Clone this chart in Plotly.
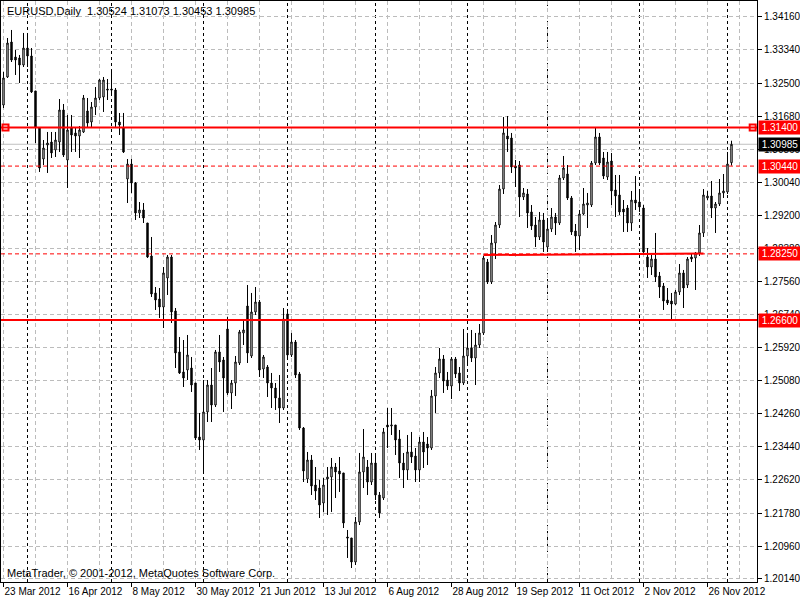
import plotly.graph_objects as go

# ---------------- data ----------------
bar_index = list(range(183))

opens = [1.31964,1.32663,1.33536,1.33162,1.33137,1.32962,1.33386,1.33187,1.32314,1.31390,
1.30617,1.30966,1.31041,1.30842,1.31041,1.31840,1.30592,1.31390,1.31266,1.31191,
1.31291,1.31815,1.31540,1.31914,1.32139,1.32164,1.32363,1.32363,1.32339,1.31540,
1.31390,1.30118,1.30492,1.30018,1.29270,1.29345,1.29020,1.28197,1.27274,1.27124,
1.26924,1.27648,1.28172,1.26825,1.25802,1.25303,1.25353,1.25402,1.25028,1.23681,
1.23606,1.24305,1.24978,1.24479,1.25802,1.25602,1.26375,1.24779,1.25028,1.25527,
1.26276,1.26949,1.25702,1.26800,1.27049,1.25377,1.25427,1.25028,1.24903,1.24654,
1.24404,1.26750,1.25727,1.26051,1.25253,1.23905,1.22633,1.23107,1.22483,1.22408,
1.22034,1.22633,1.22683,1.22932,1.22833,1.22783,1.21186,1.21161,1.20562,1.21560,
1.22808,1.22932,1.22558,1.23032,1.22234,1.22159,1.23980,1.23955,1.23980,1.23631,
1.23032,1.22858,1.23307,1.23207,1.22858,1.23556,1.23506,1.23406,1.24704,1.25278,
1.25627,1.25103,1.24953,1.25627,1.25278,1.25028,1.25702,1.25901,1.25652,1.25976,
1.26276,1.28047,1.27548,1.28521,1.28970,1.29868,1.31191,1.31141,1.30442,1.30467,
1.29669,1.29744,1.29295,1.28970,1.28671,1.29095,1.28421,1.28870,1.29170,1.29020,
1.30143,1.30243,1.29644,1.28821,1.28696,1.29245,1.29469,1.29469,1.30517,1.31166,
1.30642,1.30168,1.30567,1.29844,1.29719,1.29369,1.29394,1.29020,1.29594,1.29544,
1.29394,1.28172,1.27922,1.28122,1.27698,1.27448,1.27099,1.27074,1.26999,1.27299,
1.27773,1.27473,1.28172,1.28147,1.28272,1.28771,1.29644,1.29694,1.29394,1.29494,
1.29769,1.29794,1.30524]

highs = [1.32788,1.33636,1.33836,1.33337,1.33212,1.33761,1.33761,1.33386,1.32314,1.31415,
1.31091,1.31291,1.31291,1.31291,1.32114,1.31989,1.31715,1.31715,1.31415,1.31440,
1.32214,1.32139,1.32039,1.32413,1.32613,1.32663,1.32613,1.32788,1.32388,1.31765,
1.31765,1.30617,1.30617,1.30043,1.29544,1.29519,1.29020,1.28671,1.27423,1.27398,
1.27922,1.28222,1.28222,1.26899,1.26176,1.26101,1.26226,1.25677,1.25028,1.24280,
1.25103,1.25103,1.25402,1.25852,1.26226,1.25677,1.26675,1.25103,1.25702,1.26351,
1.26600,1.27473,1.27274,1.27423,1.27099,1.25727,1.25477,1.25278,1.25028,1.25228,
1.26899,1.26800,1.26276,1.26101,1.25303,1.23930,1.23307,1.23232,1.22932,1.22608,
1.22658,1.22932,1.23157,1.23032,1.23182,1.22783,1.21361,1.21161,1.21685,1.23282,
1.23880,1.23107,1.23282,1.23232,1.22309,1.23905,1.24404,1.24404,1.23980,1.23856,
1.23282,1.23731,1.23806,1.23406,1.23681,1.23806,1.23681,1.24854,1.25427,1.25901,
1.25727,1.25303,1.25677,1.25677,1.25427,1.26375,1.26276,1.26351,1.26276,1.26500,
1.28197,1.28122,1.28721,1.29045,1.29968,1.31665,1.31690,1.31266,1.30592,1.30567,
1.29893,1.29868,1.29469,1.29170,1.29295,1.29270,1.29145,1.29394,1.29270,1.30218,
1.30692,1.30467,1.29694,1.28995,1.29345,1.29893,1.29769,1.30567,1.31390,1.31266,
1.30792,1.30792,1.30767,1.30218,1.30218,1.29594,1.29469,1.29819,1.30193,1.29794,
1.29469,1.28396,1.28222,1.28771,1.27798,1.27523,1.27398,1.27274,1.27349,1.27997,
1.27848,1.28172,1.28247,1.28297,1.28970,1.29868,1.29819,1.30068,1.29544,1.30118,
1.30243,1.30792,1.31073]

lows = [1.31889,1.32638,1.33037,1.32713,1.32513,1.32912,1.32912,1.32264,1.31016,1.30293,
1.30467,1.30268,1.30642,1.30667,1.30792,1.30667,1.29893,1.30792,1.30792,1.30642,
1.31266,1.31415,1.31415,1.31715,1.32089,1.31790,1.32089,1.32214,1.31415,1.31216,
1.30767,1.29519,1.29769,1.29095,1.29145,1.29020,1.28147,1.27174,1.26850,1.26650,
1.26400,1.27224,1.26525,1.25402,1.25253,1.24928,1.25103,1.24804,1.23606,1.23357,
1.22808,1.24055,1.24055,1.24429,1.25303,1.24305,1.24729,1.24379,1.24704,1.25477,
1.25976,1.25527,1.25652,1.26725,1.25178,1.25153,1.24679,1.24404,1.24355,1.24030,
1.24355,1.25677,1.25677,1.25153,1.23856,1.22558,1.22533,1.22234,1.22109,1.21660,
1.21810,1.21735,1.21810,1.22159,1.22309,1.21410,1.20662,1.20412,1.20487,1.21485,
1.22408,1.22234,1.22483,1.22109,1.21660,1.22109,1.23406,1.23731,1.23232,1.22658,
1.22408,1.22608,1.23032,1.22558,1.22558,1.22907,1.22982,1.23357,1.24280,1.25153,
1.24779,1.24854,1.24629,1.25153,1.24829,1.24978,1.25477,1.25552,1.24978,1.25901,
1.26226,1.27498,1.27498,1.28122,1.28895,1.29744,1.30792,1.30268,1.29918,1.29170,
1.29594,1.28895,1.28846,1.28421,1.28596,1.28297,1.28347,1.28796,1.28721,1.28970,
1.30093,1.29594,1.28721,1.28297,1.28347,1.29220,1.28895,1.29419,1.30467,1.30467,
1.30118,1.30093,1.29469,1.29170,1.29220,1.28796,1.28796,1.28821,1.29345,1.29295,
1.28222,1.27648,1.27723,1.27548,1.27149,1.26850,1.26974,1.26600,1.26974,1.27224,
1.26899,1.27398,1.28047,1.27349,1.28197,1.28671,1.29594,1.29145,1.28771,1.29444,
1.29644,1.29744,1.30453]

closes = [1.32638,1.33511,1.33087,1.33087,1.32962,1.33386,1.33187,1.32289,1.31415,1.30392,
1.30891,1.31016,1.30767,1.31091,1.31840,1.30717,1.31341,1.31216,1.31191,1.31341,
1.32139,1.31515,1.31914,1.32139,1.32588,1.32588,1.32339,1.32339,1.31540,1.31465,
1.30792,1.30492,1.30018,1.29270,1.29345,1.29145,1.28172,1.27249,1.27099,1.26924,
1.27773,1.28172,1.26800,1.25777,1.25278,1.25153,1.25727,1.24978,1.23656,1.23606,
1.24305,1.24978,1.24479,1.25802,1.25552,1.25153,1.24779,1.25028,1.25552,1.26301,
1.26351,1.25777,1.26800,1.27049,1.25353,1.25677,1.25028,1.24903,1.24654,1.24404,
1.26625,1.25727,1.26051,1.25228,1.23905,1.22833,1.23107,1.22458,1.22334,1.21984,
1.22483,1.22683,1.22932,1.22808,1.22758,1.21535,1.21161,1.20562,1.21560,1.22808,
1.23182,1.22558,1.23032,1.22234,1.21785,1.23806,1.23930,1.23980,1.23606,1.23032,
1.22858,1.23307,1.23182,1.22858,1.23556,1.23307,1.23406,1.24704,1.25278,1.25627,
1.25078,1.24953,1.25627,1.25253,1.25028,1.25702,1.25901,1.25652,1.25976,1.26276,
1.28147,1.27548,1.28521,1.28970,1.29868,1.31266,1.31116,1.30417,1.30392,1.29669,
1.29769,1.29270,1.28945,1.28671,1.29095,1.28546,1.28870,1.29170,1.29020,1.30143,
1.30392,1.29644,1.28796,1.28696,1.29245,1.29494,1.29519,1.30517,1.31166,1.30517,
1.30193,1.30542,1.29819,1.29694,1.29295,1.29295,1.29020,1.29594,1.29519,1.29419,
1.28297,1.27922,1.28122,1.27673,1.27423,1.27074,1.27024,1.26999,1.27299,1.27773,
1.27398,1.28122,1.28122,1.28272,1.28771,1.29719,1.29694,1.29394,1.29494,1.29769,
1.29819,1.30492,1.30985]

date_tick_index = [0, 16, 32, 48, 64, 80, 96, 112, 128, 144, 160, 176]
date_tick_labels = ["23 Mar 2012", "16 Apr 2012", "8 May 2012", "30 May 2012", "21 Jun 2012",
                    "13 Jul 2012", "6 Aug 2012", "28 Aug 2012", "19 Sep 2012", "11 Oct 2012",
                    "2 Nov 2012", "26 Nov 2012"]
month_start_index = [6, 27, 50, 71, 93, 116, 136, 159, 181]

price_ticks = [1.34160, 1.33340, 1.32500, 1.31680, 1.30860, 1.30040, 1.29200, 1.28380, 1.27560,
               1.26740, 1.25920, 1.25080, 1.24260, 1.23440, 1.22620, 1.21780, 1.20960, 1.20140]

solid_levels = [1.31400, 1.26600]
dashed_levels = [1.30440, 1.28250]
bid_price = 1.30985
trend_x = [120, 175]
trend_y = [1.28220, 1.28262]
anchor_x = [0.5, 187.3]
anchor_y = [1.31400, 1.31400]

title_text = "EURUSD,Daily  1.30524 1.31073 1.30453 1.30985"
copyright_text = "MetaTrader, © 2001-2012, MetaQuotes Software Corp."

# ---------------- figure ----------------
FONT = "Liberation Sans, Arial, sans-serif"
GRID = "#bcbcbc"
RED = "#ff0000"

fig = go.Figure()
fig.add_trace(go.Candlestick(
    x=bar_index, open=opens, high=highs, low=lows, close=closes,
    increasing=dict(line=dict(color="black", width=1), fillcolor="white"),
    decreasing=dict(line=dict(color="black", width=1), fillcolor="black"),
    whiskerwidth=0, showlegend=False, hoverinfo="skip"))

fig.add_trace(go.Scatter(
    x=anchor_x, y=anchor_y, mode="markers", showlegend=False, hoverinfo="skip",
    cliponaxis=False,
    marker=dict(symbol="square", size=6, color="white", line=dict(color=RED, width=2))))

shapes = []
for m in month_start_index:
    shapes.append(dict(type="line", xref="x", yref="paper", x0=m, x1=m, y0=0, y1=1,
                       layer="between", line=dict(color="black", width=1, dash="3px,3px")))
shapes.append(dict(type="line", xref="paper", yref="y", x0=0, x1=1, y0=bid_price, y1=bid_price,
                   layer="between", line=dict(color="#c0c0c0", width=1)))
for lv in solid_levels:
    shapes.append(dict(type="line", xref="paper", yref="y", x0=0, x1=1, y0=lv, y1=lv,
                       layer="above", line=dict(color=RED, width=2)))
for lv in dashed_levels:
    shapes.append(dict(type="line", xref="paper", yref="y", x0=0, x1=1, y0=lv, y1=lv,
                       layer="above", line=dict(color=RED, width=1, dash="4px,3px")))
shapes.append(dict(type="line", xref="x", yref="y", x0=trend_x[0], x1=trend_x[1],
                   y0=trend_y[0], y1=trend_y[1], layer="above", line=dict(color=RED, width=2)))

annotations = [
    dict(text=title_text, xref="paper", yref="paper", x=0, y=1, xanchor="left", yanchor="top",
         xshift=4, yshift=-2, showarrow=False, font=dict(family=FONT, size=11, color="black")),
    dict(text=copyright_text, xref="paper", yref="paper", x=0, y=0, xanchor="left",
         yanchor="bottom", xshift=4, yshift=1, showarrow=False,
         font=dict(family=FONT, size=11, color="black")),
]
label_levels = [(solid_levels[0], RED), (bid_price, "black"), (dashed_levels[0], RED),
                (dashed_levels[1], RED), (solid_levels[1], RED)]
for lv, bg in label_levels:
    annotations.append(dict(text="%.5f" % lv, xref="paper", yref="y", x=1, y=lv,
                            xanchor="left", yanchor="middle", xshift=1, showarrow=False,
                            bgcolor=bg, borderpad=1, width=40, align="center",
                            font=dict(family=FONT, size=10, color="white")))

fig.update_layout(
    width=800, height=600,
    margin=dict(l=1, r=43, t=1, b=18, autoexpand=False),
    paper_bgcolor="white", plot_bgcolor="white",
    boxgap=0.5,
    font=dict(family=FONT, size=10, color="black"),
    shapes=shapes, annotations=annotations,
    xaxis=dict(
        range=[-0.625, 188.375], fixedrange=True, automargin=False,
        tickvals=date_tick_index, ticktext=date_tick_labels, tickangle=0,
        ticks="outside", ticklen=4, tickcolor="black", ticklabelposition="outside right",
        showline=True, linecolor="black", linewidth=1, mirror=True,
        showgrid=True, gridcolor=GRID, griddash="4px,3px", gridwidth=1,
        minor=dict(dtick=8, tick0=0, showgrid=True, gridcolor=GRID, griddash="4px,3px",
                   gridwidth=1, ticks=""),
        zeroline=False, rangeslider=dict(visible=False),
        tickfont=dict(family=FONT, size=10, color="black")),
    yaxis=dict(
        side="right", range=[1.20063, 1.34559], fixedrange=True, automargin=False,
        tickvals=price_ticks, ticktext=["%.5f" % v for v in price_ticks],
        ticks="outside", ticklen=4, tickcolor="black",
        showline=True, linecolor="black", linewidth=1, mirror=True,
        showgrid=True, gridcolor=GRID, griddash="4px,3px", gridwidth=1,
        zeroline=False,
        tickfont=dict(family=FONT, size=10, color="black")),
)

fig.write_html("out.html", config={"displayModeBar": False},
               post_script="document.body.style.margin='0';document.body.style.overflow='hidden';")
